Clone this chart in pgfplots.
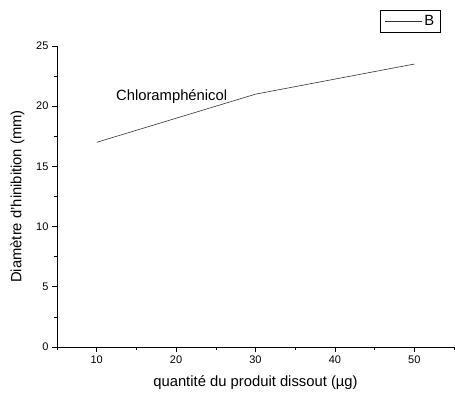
\documentclass[border=0pt]{standalone}
\usepackage{pgfplots}
\pgfplotsset{compat=1.18}
\usepackage{fontspec}
\setmainfont{Liberation Sans}
\begin{document}
\begin{tikzpicture}
\useasboundingbox (-57pt,-49pt) rectangle (398pt,347pt);
\begin{axis}[
  scale only axis, width=397pt, height=301pt,
  xmin=5, xmax=55, ymin=0, ymax=25,
  axis x line*=bottom, axis y line*=left,
  axis line style={line width=0.8pt},
  xtick={10,20,30,40,50}, minor xtick={5,15,25,35,45,55},
  ytick={0,5,10,15,20,25}, minor ytick={2.5,7.5,12.5,17.5,22.5},
  tick align=outside, major tick length=5pt, minor tick length=3pt,
  tick style={black, line width=0.6pt},
  /pgf/number format/assume math mode=true,
  ticklabel style={font=\fontsize{11}{13}\selectfont},
  xlabel={quantité du produit dissout (µg)},
  ylabel={Diamètre d'hinibition (mm)},
  label style={font=\fontsize{14.8}{17}\selectfont},
  xlabel style={at={(axis description cs:0.5,-0.1196)}, anchor=center},
  ylabel style={at={(axis description cs:-0.0995,0.5)}, anchor=center},
  legend style={at={(0.966,1.12)}, anchor=north east, draw=black, line width=0.6pt,
    font=\fontsize{14.8}{17}\selectfont, inner xsep=4pt, inner ysep=3pt},
  legend image code/.code={\draw[#1] (0pt,0pt) -- (37pt,0pt);},
  legend cell align=left,
]
\addplot[black!80, line width=0.6pt] coordinates {(10,17) (30,21) (50,23.5)};
\addlegendentry{B}
\node[anchor=west, font=\fontsize{14.8}{17}\selectfont] at (axis cs:12.0,20.8) {Chloramphénicol};
\end{axis}
\end{tikzpicture}
\end{document}
